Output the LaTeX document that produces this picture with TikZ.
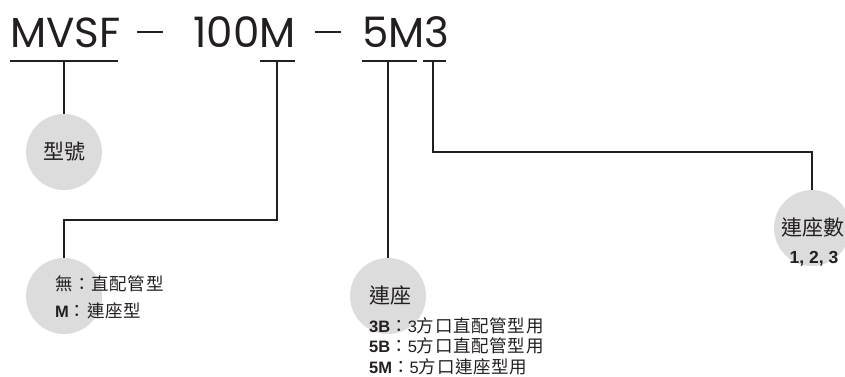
\documentclass[tikz,border=0pt]{standalone}
\usepackage{fontspec}
\setmainfont{Liberation Sans}
\newfontfamily\cjk{Noto Sans CJK TC}
\newfontfamily\cjkwide[LetterSpace=4]{Noto Sans CJK TC}
\newfontfamily\codefont{Poppins}
\newcommand\cjknote{\cjkwide\fontsize{17.5}{17.5}\selectfont}
\usetikzlibrary{positioning}
\definecolor{inkdark}{HTML}{231F20}
\definecolor{bubblegray}{HTML}{DCDCDC}

\begin{document}
\begin{tikzpicture}[x=1pt,y=-1pt,
	bubble/.style={circle,fill=bubblegray,minimum size=76pt,inner sep=0pt,text=inkdark},
	link/.style={line width=1.1pt,draw=inkdark},
	code/.style={anchor=base west,inner sep=0pt,text=inkdark,font=\codefont\fontsize{42}{42}\selectfont},
	note/.style={anchor=base west,inner sep=0pt,text=inkdark,font=\fontsize{16.5}{16.5}\selectfont},
	bigcjk/.style={font=\cjk\fontsize{21}{21}\selectfont}]
\useasboundingbox (0,0) rectangle (845,376);

% model code
\node[code] (mvsf) at (10,47) {MVSF};
\node[code] (dasha) at (137,47) {\rule[0.34em]{26pt}{1.8pt}};
\node[code,anchor=base east] (hundred) at (296,47) {100M};
\node[code] (dashb) at (315,47) {\rule[0.34em]{26pt}{1.8pt}};
\node[code] (suffix) at (362,47) {5M3};

% underlines and ticks
\draw[link] (10,61) -- (118,61);
\draw[link] (260,61) -- (295,61);
\draw[link] (362,61) -- (417,61);
\draw[link] (423,61) -- (446,61);
\coordinate (tmvsf) at (64,61);
\coordinate (tmtype) at (277,61);
\coordinate (tconn) at (388,61);
\coordinate (tcount) at (433,61);
\coordinate (kmtype) at (277,220);
\coordinate (kcount) at (433,152);

% bubbles
\node[bubble,bigcjk] (model) at (64,152) {型號};
\node[bubble] (mtype) at (64,296) {};
\node[bubble] (conn) at (388,296) {};
\node[bubble] (count) at (812,228) {};

% connectors
\draw[link] (tmvsf) -- (model.north);
\draw[link] (tmtype) -- (kmtype) -| (mtype.north);
\draw[link] (tconn) -- (conn.north);
\draw[link] (tcount) -- (kcount) -| (count.north);

% texts
\node[note] (mnone) at (55,290) {\cjknote 無：直配管型};
\node[note] (mrow) at (55,317) {\textbf{M}\cjknote ：連座型};

\node[note,bigcjk] (conntitle) at (369,303) {連座};
\node[note] (conna) at (369,332) {\textbf{3B}\cjknote ：\rmfamily\fontsize{16.5}{16.5}\selectfont 3\cjknote 方口直配管型用};
\node[note] (connb) at (369,352) {\textbf{5B}\cjknote ：\rmfamily\fontsize{16.5}{16.5}\selectfont 5\cjknote 方口直配管型用};
\node[note] (connc) at (369,373) {\textbf{5M}\cjknote ：\rmfamily\fontsize{16.5}{16.5}\selectfont 5\cjknote 方口連座型用};

\node[note,bigcjk,anchor=base] (counttitle) at (813,235) {連座數};
\node[note,anchor=base] (countvals) at (814,263) {\fontsize{17.5}{17.5}\selectfont\textbf{1, 2, 3}};
\end{tikzpicture}
\end{document}
